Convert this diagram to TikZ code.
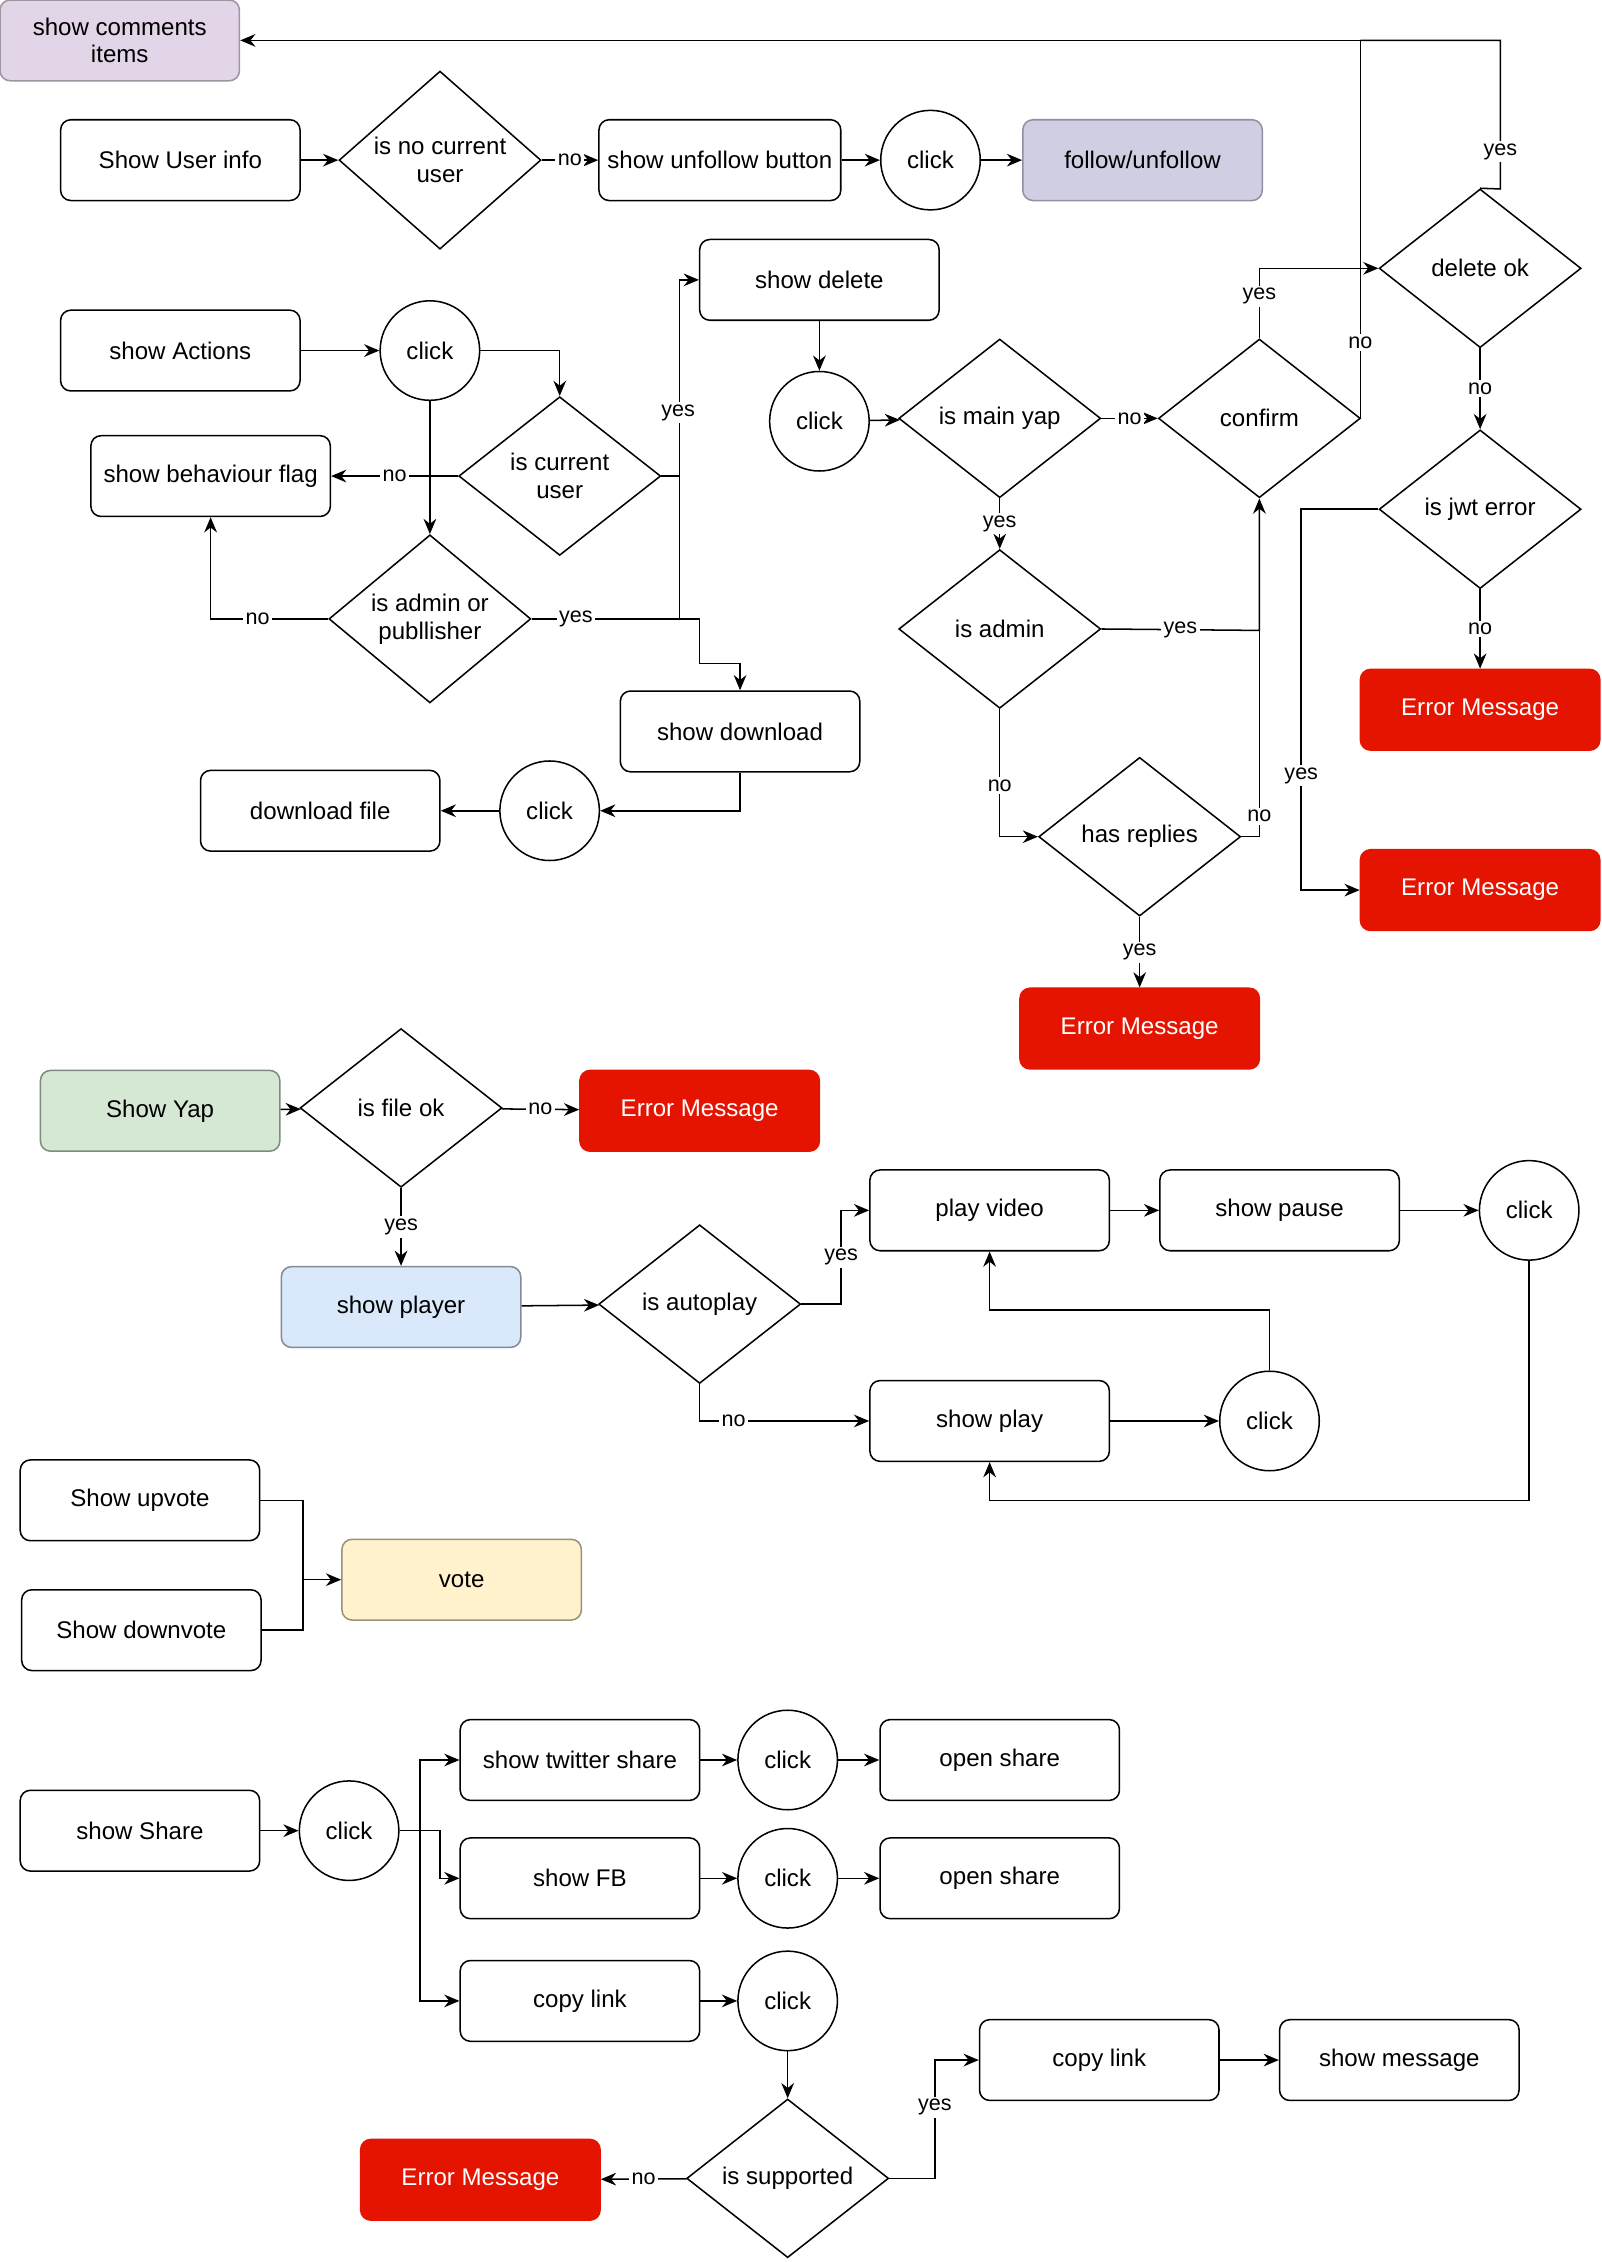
\documentclass[tikz,border=0pt]{standalone}
\usepackage{fontspec}
\setmainfont{Liberation Sans}
\usetikzlibrary{shapes.geometric,arrows.meta,positioning}
\definecolor{purp}{HTML}{E1D5E7}
\definecolor{lilac}{HTML}{D0CEE2}
\definecolor{errred}{HTML}{E51400}
\definecolor{grn}{HTML}{D5E8D4}
\definecolor{blu}{HTML}{DAE8FC}
\definecolor{yel}{HTML}{FFF2CC}
\tikzset{
	box/.style={draw,rectangle,rounded corners=4pt,minimum width=3.32cm,minimum height=1.12cm,align=center},
	err/.style={box,draw=errred,fill=errred,text=white},
	dec/.style={draw,diamond,minimum width=2.8cm,minimum height=2.2cm,inner sep=0pt,align=center},
	circ/.style={draw,circle,minimum size=1.38cm,inner sep=0pt},
	lab/.style={fill=white,inner sep=1pt,font=\fontsize{8.5}{10}\selectfont},
	arr/.style={-{Stealth[length=6pt,width=5pt]}}
}
\begin{document}
\begin{tikzpicture}[x=0.02cm,y=-0.02cm,font=\fontsize{9.5}{11}\selectfont,line width=0.6pt]
	\useasboundingbox (0,0) rectangle (1110,1568);

	% nodes
	\node[box,fill=purp,draw=purp!70!black] (comments) at (83,28) {show comments\\items};
	\node[box] (userinfo) at (125,111) {Show User info};
	\node[dec] (nocur) at (305,111) {is no current\\user};
	\node[box] (unfollow) at (499,111) {show unfollow button};
	\node[circ] (clickA) at (645,111) {click};
	\node[box,fill=lilac,draw=lilac!70!black] (follow) at (792,111) {follow/unfollow};

	\node[dec] (deleteok) at (1026,186) {delete ok};
	\node[box] (showdelete) at (568,194) {show delete};
	\node[box] (actions) at (125,243) {show Actions};
	\node[circ] (clickB) at (298,243) {click};
	\node[dec] (iscur) at (388,330) {is current\\user};
	\node[box] (behav) at (146,330) {show behaviour flag};
	\node[dec] (admpub) at (298,429) {is admin or\\publlisher};
	\node[circ] (clickC) at (568,292) {click};
	\node[dec] (mainyap) at (693,290) {is main yap};
	\node[dec] (confirm) at (873,290) {confirm};
	\node[dec] (jwt) at (1026,353) {is jwt error};
	\node[dec] (isadmin) at (693,436) {is admin};
	\node[err] (errA) at (1026,492) {Error Message};
	\node[err] (errB) at (1026,617) {Error Message};
	\node[box] (showdl) at (513,507) {show download};
	\node[box] (dlfile) at (222,562) {download file};
	\node[circ] (clickD) at (381,562) {click};
	\node[dec] (replies) at (790,580) {has replies};
	\node[err] (errC) at (790,713) {Error Message};

	\node[box,fill=grn,draw=grn!60!black] (yap) at (111,770) {Show Yap};
	\node[dec] (fileok) at (278,768) {is file ok};
	\node[err] (errD) at (485,770) {Error Message};
	\node[box] (video) at (686,839) {play video};
	\node[box] (pause) at (887,839) {show pause};
	\node[circ] (clickE) at (1060,839) {click};
	\node[box,fill=blu,draw=blu!60!black] (player) at (278,906) {show player};
	\node[dec] (auto) at (485,904) {is autoplay};
	\node[box] (play) at (686,985) {show play};
	\node[circ] (clickF) at (880,985) {click};

	\node[box] (up) at (97,1040) {Show upvote};
	\node[box,fill=yel,draw=yel!60!black] (vote) at (320,1095) {vote};
	\node[box] (down) at (98,1130) {Show downvote};

	\node[box] (share) at (97,1269) {show Share};
	\node[circ] (clickG) at (242,1269) {click};
	\node[box] (twitter) at (402,1220) {show twitter share};
	\node[circ] (clickH) at (546,1220) {click};
	\node[box] (openA) at (693,1220) {open share};
	\node[box] (fb) at (402,1302) {show FB};
	\node[circ] (clickI) at (546,1302) {click};
	\node[box] (openB) at (693,1302) {open share};
	\node[box] (copy) at (402,1387) {copy link};
	\node[circ] (clickJ) at (546,1387) {click};
	\node[box] (copyB) at (762,1428) {copy link};
	\node[box] (msg) at (970,1428) {show message};
	\node[dec] (supp) at (546,1510) {is supported};
	\node[err] (errE) at (333,1511) {Error Message};

	% user info
	\draw[arr] (userinfo) -- (nocur);
	\draw[arr] (nocur) -- node[lab] {no} (unfollow);
	\draw[arr] (unfollow) -- (clickA);
	\draw[arr] (clickA) -- (follow);

	% actions
	\draw[arr] (actions) -- (clickB);
	\draw[arr] (clickB.east) -| (iscur.north);
	\draw[arr] (clickB) -- (admpub);
	\draw[arr] (iscur) -- node[lab] {no} (behav);
	\draw[arr] (iscur.east) -- (471,330) |- (showdelete.west);
	\node[lab] at (470,286) {yes};
	\draw[arr] (admpub.west) -| node[lab,pos=0.3] {no} (behav.south);
	\draw (admpub.east) -- node[lab,pos=0.3] {yes} (471,429) -- (471,330);
	\draw[arr] (471,429) -- (485,429) -- (485,460) -| (showdl.north);
	\draw[arr] (showdl.south) |- (clickD.east);
	\draw[arr] (clickD) -- (dlfile);

	% delete
	\draw[arr] (showdelete) -- (clickC);
	\draw[arr] (clickC) -- (mainyap);
	\draw[arr] (mainyap) -- node[lab] {no} (confirm);
	\draw[arr] (mainyap) -- node[lab] {yes} (isadmin);
	\draw[arr] (confirm.north) |- node[lab,pos=0.3] {yes} (deleteok.west);
	\draw[arr] (confirm.east) -- (943,290) -- node[lab,pos=0.2] {no} (943,28) -- (comments.east);
	\draw (deleteok.north) -- (1040,131) -- node[lab,pos=0.25] {yes} (1040,28) -- (943,28);
	\draw[arr] (deleteok) -- node[lab] {no} (jwt);
	\draw[arr] (jwt) -- node[lab] {no} (errA);
	\draw[arr] (jwt.west) -- (902,353) |- node[lab,pos=0.35] {yes} (errB.west);
	\draw[arr] (isadmin.east) -- node[lab] {yes} (873,437) -- (confirm.south);
	\draw (replies.east) -- (873,580) -- node[lab,pos=0.1] {no} (873,437);
	\draw[arr] (isadmin.south) |- node[lab,pos=0.3] {no} (replies.west);
	\draw[arr] (replies) -- node[lab] {yes} (errC);

	% yap player
	\draw[arr] (yap) -- (fileok);
	\draw[arr] (fileok) -- node[lab] {no} (errD);
	\draw[arr] (fileok) -- node[lab] {yes} (player);
	\draw[arr] (player) -- (auto);
	\draw[arr] (auto.east) -- (583,904) |- node[lab,pos=0.25] {yes} (video.west);
	\draw[arr] (auto.south) |- node[lab,pos=0.6] {no} (play.west);
	\draw[arr] (video) -- (pause);
	\draw[arr] (pause) -- (clickE);
	\draw[arr] (play) -- (clickF);
	\draw[arr] (clickF.north) |- (686,908) -- (video.south);
	\draw[arr] (clickE.south) |- (686,1040) -- (play.south);

	% votes
	\draw[arr] (up.east) -- (210,1040) |- (vote.west);
	\draw (down.east) -- (210,1130) -- (210,1095);

	% share
	\draw[arr] (share) -- (clickG);
	\draw[arr] (clickG.east) -- (291,1269) |- (twitter.west);
	\draw[arr] (291,1269) |- (copy.west);
	\draw[arr] (291,1269) -- (305,1269) |- (fb.west);
	\draw[arr] (twitter) -- (clickH);
	\draw[arr] (clickH) -- (openA);
	\draw[arr] (fb) -- (clickI);
	\draw[arr] (clickI) -- (openB);
	\draw[arr] (copy) -- (clickJ);
	\draw[arr] (clickJ) -- (supp);
	\draw[arr] (supp.east) -- (648,1510) |- node[lab,pos=0.3] {yes} (copyB.west);
	\draw[arr] (copyB) -- (msg);
	\draw[arr] (supp) -- node[lab] {no} (errE);
\end{tikzpicture}
\end{document}
